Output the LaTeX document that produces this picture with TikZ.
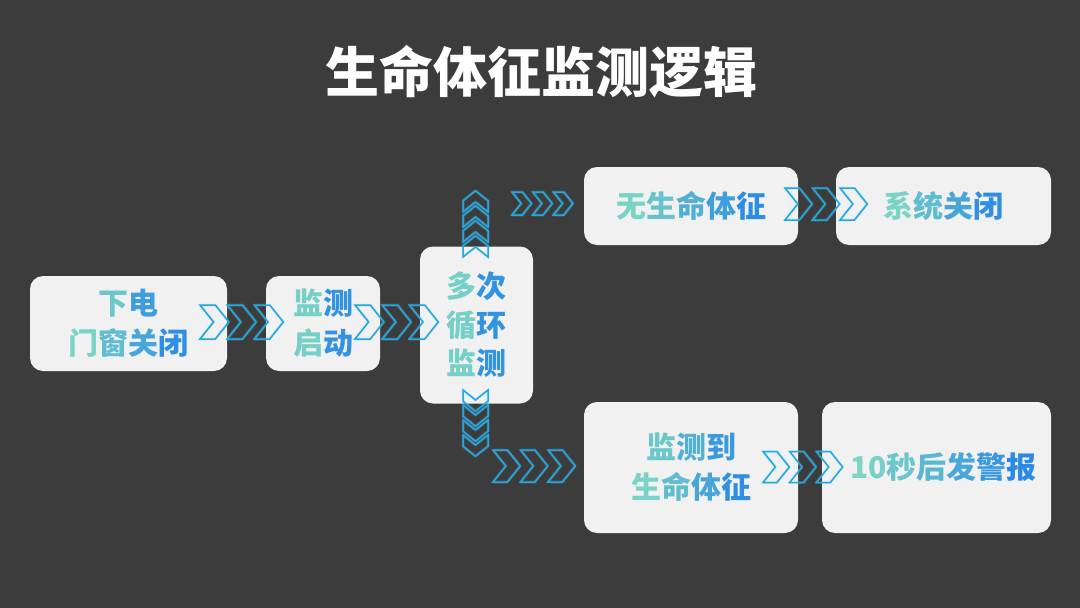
\documentclass[tikz,border=0pt]{standalone}
\usepackage{fontspec}
\newfontfamily\cjk{Noto Sans CJK SC}
\definecolor{bgc}{HTML}{3C3C3C}
\definecolor{boxc}{HTML}{F1F1F1}
\definecolor{tealc}{HTML}{7DD6C4}
\definecolor{bluec}{HTML}{2A8BE6}
\definecolor{chevc}{HTML}{22A7E0}
\definecolor{chevg}{HTML}{6FD0F5}
\newcommand\gc[2]{{\color{bluec!#1!tealc}#2}}
\newcommand\chevrow[5]{%
  \begin{scope}[shift={#1}, rotate=#2, scale=#3]
    \foreach \k in {1,...,#4}{
      \pgfmathsetmacro\chx{(\k-1)*#5}
      \draw[chevglow] (\chx,-0.5) -- (\chx+0.45,-0.5) -- (\chx+0.85,0) -- (\chx+0.45,0.5) -- (\chx,0.5) -- (\chx+0.4,0) -- cycle;
      \draw[chevline] (\chx,-0.5) -- (\chx+0.45,-0.5) -- (\chx+0.85,0) -- (\chx+0.45,0.5) -- (\chx,0.5) -- (\chx+0.4,0) -- cycle;
    }
  \end{scope}}
\tikzset{
  flowbox/.style={fill=boxc, rounded corners=13pt, inner sep=0pt, align=center,
    font=\cjk\bfseries\fontsize{30}{40}\selectfont},
  chevglow/.style={draw=chevg, line width=3pt, opacity=0.22, line join=round},
  chevline/.style={draw=chevc, line width=1.5pt, line join=miter},
}
\begin{document}
\begin{tikzpicture}[x=1pt, y=-1pt]
  \fill[bgc] (0,0) rectangle (1080,608);
  \useasboundingbox (0,0) rectangle (1080,608);
  \node[text=white, font=\cjk\bfseries\fontsize{54}{60}\selectfont] (title) at (541,72) {生命体征监测逻辑};

  \node[flowbox, minimum width=197pt, minimum height=95pt] (b1) at (128.5,323.5)
    {\gc{20}{下}\gc{75}{电}\\\gc{3}{门}\gc{35}{窗}\gc{65}{关}\gc{95}{闭}};
  \node[flowbox, minimum width=114pt, minimum height=95pt] (b2) at (323,323.5)
    {\gc{8}{监}\gc{90}{测}\\\gc{8}{启}\gc{90}{动}};
  \node[flowbox, minimum width=113pt, minimum height=157pt,
    font=\cjk\bfseries\fontsize{30}{38.5}\selectfont] (b3) at (476.5,325)
    {\gc{8}{多}\gc{90}{次}\\\gc{8}{循}\gc{90}{环}\\\gc{8}{监}\gc{90}{测}};
  \node[flowbox, minimum width=214pt, minimum height=78pt] (b4) at (691,206)
    {\gc{3}{无}\gc{25}{生}\gc{50}{命}\gc{75}{体}\gc{97}{征}};
  \node[flowbox, minimum width=215pt, minimum height=78pt] (b5) at (943.5,206)
    {\gc{3}{系}\gc{35}{统}\gc{65}{关}\gc{95}{闭}};
  \node[flowbox, minimum width=214pt, minimum height=131pt] (b6) at (691,467.5)
    {\gc{20}{监}\gc{50}{测}\gc{80}{到}\\\gc{3}{生}\gc{35}{命}\gc{65}{体}\gc{95}{征}};
  \node[flowbox, minimum width=229pt, minimum height=131pt] (b7) at (936.5,467.5)
    {\hspace*{14pt}\gc{0}{1}\gc{8}{0}\gc{22}{秒}\gc{42}{后}\gc{62}{发}\gc{82}{警}\gc{100}{报}};

  % chevron connectors
  \chevrow{(200,322)}{0}{34}{3}{0.8}
  \chevrow{(355,322)}{0}{34}{3}{0.8}
  \chevrow{(475.5,257)}{90}{25}{4}{0.6}
  \chevrow{(512,203.5)}{0}{23}{3}{0.9}
  \chevrow{(475.5,390)}{-90}{25}{4}{0.6}
  \chevrow{(493,466)}{0}{32}{3}{0.86}
  \chevrow{(785,204)}{0}{32}{3}{0.86}
  \chevrow{(763,467)}{0}{31}{3}{0.86}
\end{tikzpicture}
\end{document}
